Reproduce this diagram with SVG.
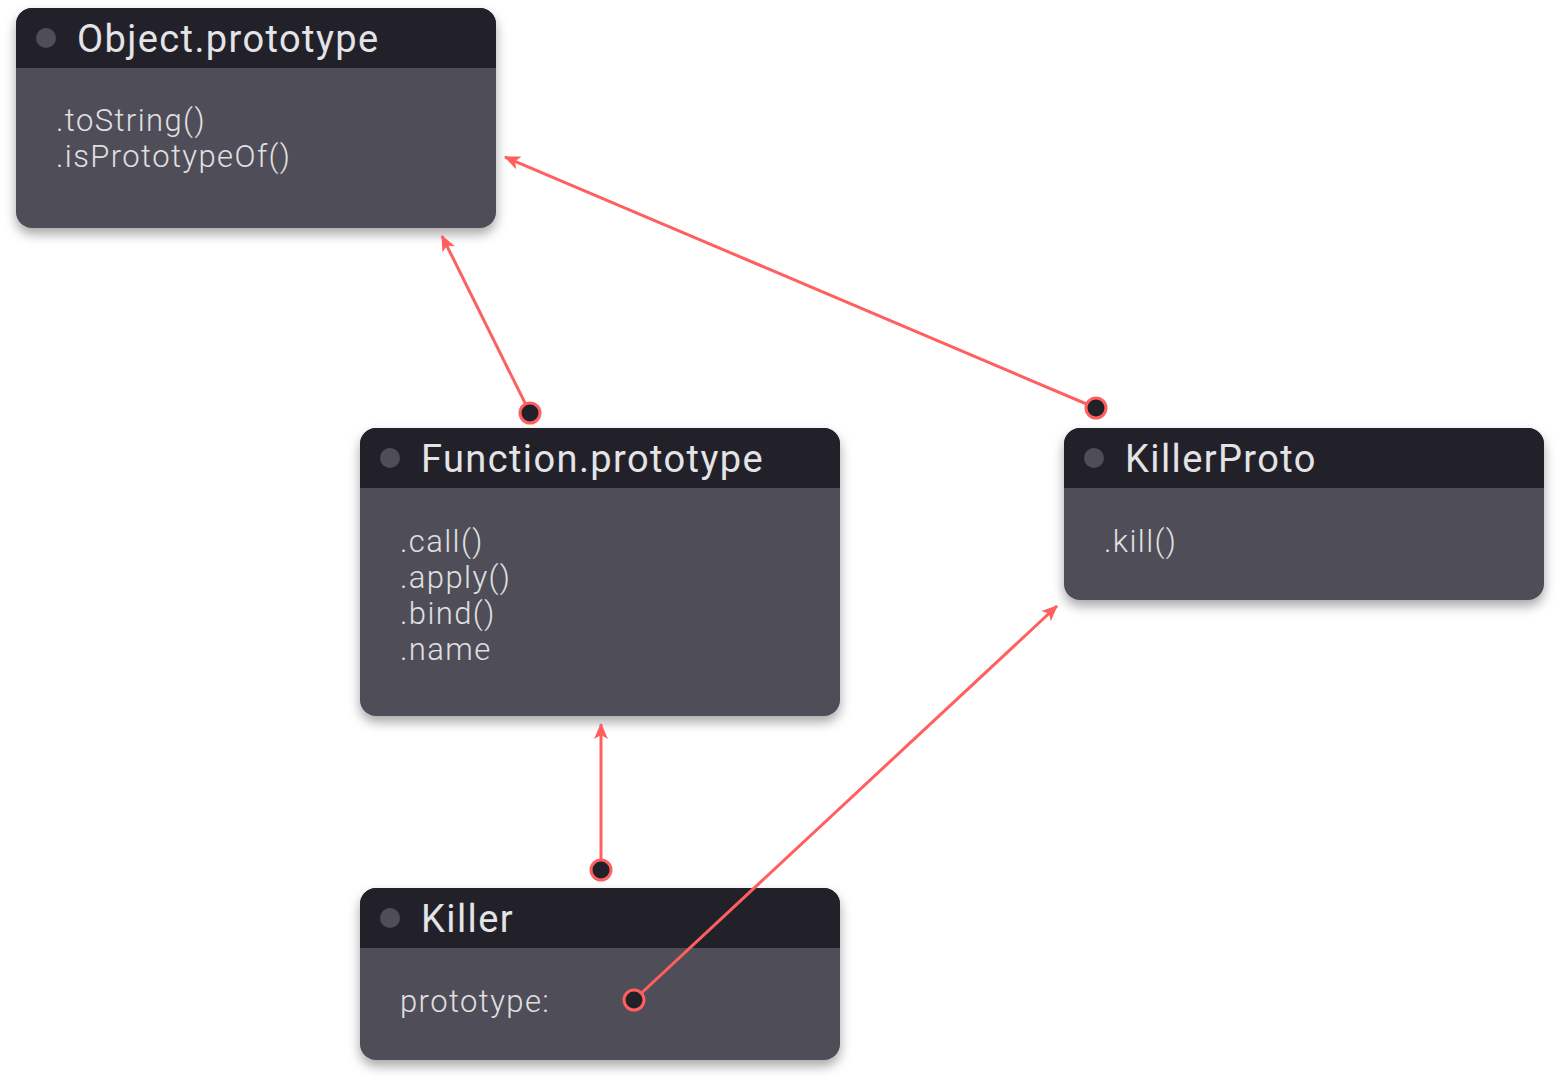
<svg xmlns="http://www.w3.org/2000/svg" width="1560" height="1084" viewBox="0 0 1560 1084">
<style>
.body{fill:#4f4e58}
.head{fill:#22212a}
.hdot{fill:#4f4e58}
.title{font-family:Roboto,"Liberation Sans",sans-serif;font-size:38px;letter-spacing:1.4px;fill:#e4e4e6}
.txt{font-family:Roboto,"Liberation Sans",sans-serif;font-weight:300;font-size:31px;letter-spacing:1.4px;fill:#e0e0e2}
.edge{stroke:#ff5f5f;stroke-width:3;fill:none}
.port{fill:#22212a;stroke:#ff5f5f;stroke-width:3}
</style>
<defs>
<filter id="sh" x="-10%" y="-10%" width="120%" height="130%">
<feDropShadow dx="0" dy="6" stdDeviation="6" flood-color="#000" flood-opacity="0.35"/>
</filter>
<marker id="ah" markerUnits="userSpaceOnUse" markerWidth="18" markerHeight="16" refX="15" refY="8" orient="auto">
<path d="M0,1 L16,8 L0,15 L4,8 Z" fill="#ff5f5f"/>
</marker>
<clipPath id="c1"><rect x="16" y="8" width="480" height="220" rx="16"/></clipPath>
<clipPath id="c2"><rect x="360" y="428" width="480" height="288" rx="16"/></clipPath>
<clipPath id="c3"><rect x="1064" y="428" width="480" height="172" rx="16"/></clipPath>
<clipPath id="c4"><rect x="360" y="888" width="480" height="172" rx="16"/></clipPath>
</defs>
<g id="node-object">
<rect x="16" y="8" width="480" height="220" rx="16" class="body" filter="url(#sh)"/>
<rect x="16" y="8" width="480" height="60" class="head" clip-path="url(#c1)"/>
<circle cx="46" cy="38" r="10" class="hdot"/>
<text x="77" y="52" class="title">Object.prototype</text>
<text x="56" y="131" class="txt">.toString()</text>
<text x="56" y="167" class="txt">.isPrototypeOf()</text>
</g>
<g id="node-function">
<rect x="360" y="428" width="480" height="288" rx="16" class="body" filter="url(#sh)"/>
<rect x="360" y="428" width="480" height="60" class="head" clip-path="url(#c2)"/>
<circle cx="390" cy="458" r="10" class="hdot"/>
<text x="421" y="472" class="title">Function.prototype</text>
<text x="400" y="552" class="txt">.call()</text>
<text x="400" y="588" class="txt">.apply()</text>
<text x="400" y="624" class="txt">.bind()</text>
<text x="400" y="660" class="txt">.name</text>
</g>
<g id="node-killerproto">
<rect x="1064" y="428" width="480" height="172" rx="16" class="body" filter="url(#sh)"/>
<rect x="1064" y="428" width="480" height="60" class="head" clip-path="url(#c3)"/>
<circle cx="1094" cy="458" r="10" class="hdot"/>
<text x="1125" y="472" class="title">KillerProto</text>
<text x="1104" y="552" class="txt">.kill()</text>
</g>
<g id="node-killer">
<rect x="360" y="888" width="480" height="172" rx="16" class="body" filter="url(#sh)"/>
<rect x="360" y="888" width="480" height="60" class="head" clip-path="url(#c4)"/>
<circle cx="390" cy="918" r="10" class="hdot"/>
<text x="421" y="932" class="title">Killer</text>
<text x="400" y="1012" class="txt">prototype:</text>
</g>
<g id="connectors">
<line x1="530" y1="413" x2="442" y2="236" class="edge" marker-end="url(#ah)"/>
<circle cx="530" cy="413" r="10" class="port"/>
<line x1="1096" y1="408" x2="505" y2="157" class="edge" marker-end="url(#ah)"/>
<circle cx="1096" cy="408" r="10" class="port"/>
<line x1="601" y1="870" x2="601" y2="724" class="edge" marker-end="url(#ah)"/>
<circle cx="601" cy="870" r="10" class="port"/>
<line x1="634" y1="1000" x2="1057" y2="606" class="edge" marker-end="url(#ah)"/>
<circle cx="634" cy="1000" r="10" class="port"/>
</g>
</svg>
